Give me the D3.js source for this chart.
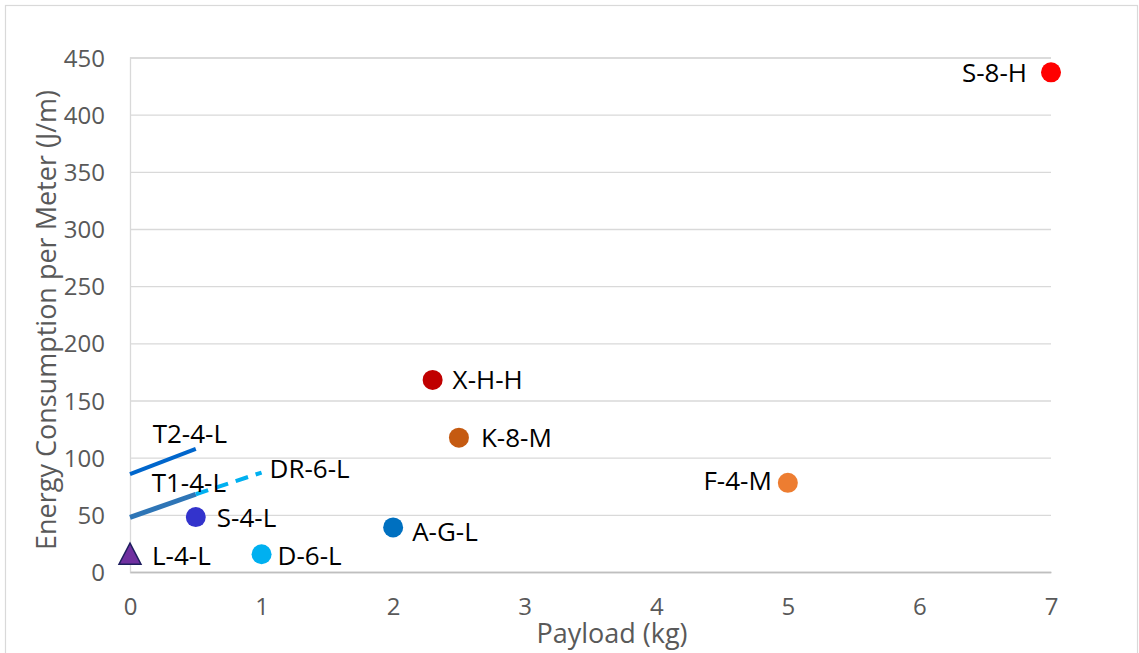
<!DOCTYPE html>
<html>
<head>
<meta charset="utf-8">
<script src="https://cdn.jsdelivr.net/npm/d3@7"></script>
<style>
  html, body { margin: 0; padding: 0; background: #fff; }
  svg { display: block; }
  text { font-family: "Open Sans", "Liberation Sans", sans-serif; }
</style>
</head>
<body>
<svg id="chart" width="1139" height="653"></svg>
<script>
// Robot platforms: payload (kg) vs energy consumption per meter (J/m)
const pointNames   = ["S-8-H", "X-H-H", "K-8-M", "F-4-M", "A-G-L", "S-4-L", "D-6-L", "L-4-L"];
const pointPayload = [7, 2.3, 2.5, 5, 2, 0.5, 1, 0];
const pointEnergy  = [437, 168, 117.5, 78, 39, 48, 15.5, 16];
const pointColors  = ["#FF0000", "#C00000", "#C55A11", "#ED7D31", "#0070C0", "#3333CC", "#00B0F0", "#7030A0"];
const pointShapes  = ["circle", "circle", "circle", "circle", "circle", "circle", "circle", "triangle"];

// Platforms reported as a payload range
const lineNames    = ["T2-4-L", "T1-4-L", "DR-6-L"];
const linePayload  = [[0, 0.5], [0, 0.5], [0.5, 1]];
const lineEnergy   = [[85.7, 107.6], [47.8, 68], [68, 87]];
const lineColors   = ["#0066CC", "#2E75B6", "#00B0F0"];
const lineDashed   = [false, false, true];

const xTicks = [0, 1, 2, 3, 4, 5, 6, 7];
const yTicks = [0, 50, 100, 150, 200, 250, 300, 350, 400, 450];

const xTitle = "Payload (kg)";
const yTitle = "Energy Consumption per Meter (J/m)";

// layout
const plot = { left: 130, right: 1051, top: 57.5, bottom: 572 };

const svg = d3.select("#chart");

// chart frame
svg.append("rect")
  .attr("x", 5.5).attr("y", 5.5)
  .attr("width", 1132).attr("height", 660)
  .attr("fill", "#fff").attr("stroke", "#D9D9D9").attr("stroke-width", 1.2);

const x = d3.scaleLinear().domain([0, 7]).range([plot.left, plot.right]);
const y = d3.scaleLinear().domain([0, 450]).range([plot.bottom, plot.top]);

// horizontal gridlines + value axis
const yAxis = d3.axisLeft(y).tickValues(yTicks).tickSize(-(plot.right - plot.left)).tickPadding(25).tickFormat(d3.format("d"));
const gy = svg.append("g").attr("transform", `translate(${plot.left},0)`).call(yAxis);
gy.select(".domain").attr("stroke", "#D9D9D9").attr("stroke-width", 1.3);
gy.selectAll(".tick line").attr("stroke", "#D9D9D9").attr("stroke-width", 1.3);
gy.selectAll(".tick text").attr("fill", "#595959").attr("dy", "0.36em").style("font-size", "24px");

// payload axis
const xAxis = d3.axisBottom(x).tickValues(xTicks).tickSize(0).tickPadding(26).tickFormat(d3.format("d"));
const gx = svg.append("g").attr("transform", `translate(0,${plot.bottom})`).call(xAxis);
gx.select(".domain").attr("stroke", "#BFBFBF").attr("stroke-width", 1.3);
gx.selectAll(".tick text").attr("fill", "#595959").attr("dy", "0.36em").attr("y", 34).style("font-size", "24px");

// axis titles
svg.append("text")
  .attr("x", 612).attr("y", 643)
  .attr("text-anchor", "middle")
  .attr("fill", "#595959").style("font-size", "27px")
  .text(xTitle);

svg.append("text")
  .attr("transform", `translate(46,320) rotate(-90)`)
  .attr("text-anchor", "middle")
  .attr("dy", "0.36em")
  .attr("fill", "#595959").style("font-size", "27px")
  .text(yTitle);

// range lines
const lineGen = d3.line().x(d => x(d[0])).y(d => y(d[1]));
lineNames.forEach((name, i) => {
  const pts = linePayload[i].map((p, k) => [p, lineEnergy[i][k]]);
  svg.append("path")
    .attr("d", lineGen(pts))
    .attr("fill", "none")
    .attr("stroke", lineColors[i])
    .attr("stroke-width", i === 1 ? 5 : 4)
    .attr("stroke-dasharray", lineDashed[i] ? "13,8" : null);
});

// point markers
pointNames.forEach((name, i) => {
  const cx = x(pointPayload[i]), cy = y(pointEnergy[i]);
  if (pointShapes[i] === "triangle") {
    svg.append("path")
      .attr("d", `M${cx},${cy - 10.5} L${cx + 11},${cy + 10.5} L${cx - 11},${cy + 10.5} Z`)
      .attr("fill", pointColors[i])
      .attr("stroke", "#1F1F5F").attr("stroke-width", 1.5);
  } else {
    svg.append("circle")
      .attr("cx", cx).attr("cy", cy).attr("r", 10)
      .attr("fill", pointColors[i]);
  }
});

// data labels: anchor, dx, dy relative to the mark
const labelPlace = {
  "S-8-H": ["end", -24, 0], "X-H-H": ["start", 20, 0], "K-8-M": ["start", 22, 0],
  "F-4-M": ["end", -16, -2], "A-G-L": ["start", 19, 4], "S-4-L": ["start", 21, 1],
  "D-6-L": ["start", 16, 1], "L-4-L": ["start", 22, 2]
};
pointNames.forEach((name, i) => {
  const s = labelPlace[name];
  svg.append("text")
    .attr("x", x(pointPayload[i]) + s[1])
    .attr("y", y(pointEnergy[i]) + s[2])
    .attr("dy", "0.36em")
    .attr("text-anchor", s[0])
    .attr("fill", "#000").style("font-size", "26px")
    .text(name);
});

// range line labels: which end, dx, dy (baseline)
const lineLabelPlace = [[0, 22.7, -6], [0, 21.7, -2.6], [1, 8, 5.6]];
lineNames.forEach((name, i) => {
  const p = lineLabelPlace[i];
  svg.append("text")
    .attr("x", x(linePayload[i][p[0]]) + p[1])
    .attr("y", y(lineEnergy[i][1]) + p[2])
    .attr("fill", "#000").style("font-size", "26px")
    .text(name);
});
</script>
</body>
</html>
